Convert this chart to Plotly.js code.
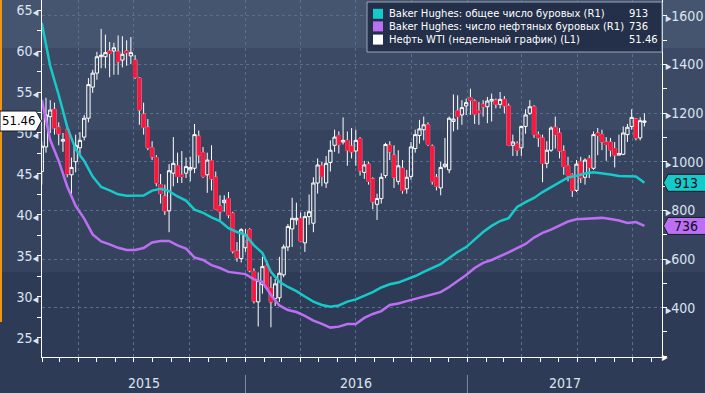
<!DOCTYPE html>
<html>
<head>
<meta charset="utf-8">
<script src="https://cdn.plot.ly/plotly-3.0.1.min.js"></script>
<style>
html,body{margin:0;padding:0;background:#2e3b57;}
#chart{width:705px;height:393px;}
</style>
</head>
<body>
<div id="chart"></div>
<script>
// ---------- DATA ----------
const weekStart = '2015-01-30'; // first weekly bar (Fridays)

const wtiOpen = [45.3,48.3,52.0,52.9,50.7,49.0,50.4,44.9,46.5,48.2,49.5,51.8,55.6,57.3,59.3,59.3,60.0,60.0,59.9,58.9,60.0,59.4,58.9,56.7,52.3,50.7,48.2,47.0,43.7,42.3,40.5,45.1,46.0,44.9,45.1,45.5,45.7,49.6,47.6,44.9,46.6,44.6,41.1,41.5,42.0,40.2,35.6,34.7,36.0,38.2,33.1,29.4,31.5,33.8,31.1,29.8,29.9,32.7,36.1,38.3,39.4,39.6,36.6,39.8,39.0,43.9,46.0,43.9,46.4,48.5,49.7,48.9,49.1,48.4,47.8,49.3,45.2,46.2,44.4,41.3,42.0,44.8,48.5,47.3,44.1,45.7,43.2,44.7,48.1,49.7,50.4,51.0,48.4,44.6,43.3,45.9,45.5,51.4,52.7,52.2,53.3,54.3,53.9,52.7,53.5,53.2,53.9,54.0,53.5,54.1,53.3,48.5,48.7,48.2,50.8,52.4,53.2,49.8,49.4,46.3,47.9,50.7,50.0,47.8,46.0,44.9,43.0,46.5,44.6,46.9,45.7,50.0,49.8,48.9,48.9,48.1,47.3,47.4,49.8,50.8,51.7,49.4,51.3];
const wtiHigh = [49.0,54.3,54.0,53.7,51.3,50.0,51.0,47.0,49.8,50.1,52.2,56.7,57.7,59.9,62.7,62.0,61.1,61.0,61.9,61.8,61.3,61.7,59.5,56.8,53.7,51.7,49.0,47.3,45.0,43.7,46.2,49.5,47.6,47.8,47.0,47.1,51.1,50.3,48.3,47.6,48.5,45.3,42.4,42.4,42.8,40.4,36.7,38.4,38.3,38.4,33.5,33.0,34.9,34.5,32.5,32.2,34.9,36.4,38.9,42.1,41.5,40.3,40.4,42.5,44.6,46.9,46.5,47.2,49.1,50.4,50.2,51.9,50.2,50.6,50.4,49.5,46.6,46.5,44.6,42.6,45.1,48.8,49.0,48.5,47.9,46.7,45.5,48.9,50.4,51.6,52.0,51.3,48.6,45.0,46.5,49.4,52.0,54.7,54.6,54.0,54.2,55.4,54.1,53.8,54.0,54.4,54.8,54.2,55.0,54.5,53.6,49.8,49.0,50.9,52.9,54.0,53.4,50.2,49.8,49.0,50.8,52.0,50.6,48.5,47.1,45.1,46.7,47.1,46.9,47.3,50.2,50.6,50.4,49.5,49.4,48.9,49.8,50.8,51.1,52.9,51.8,51.9,52.4];
const wtiLow = [43.7,47.6,50.0,49.8,48.5,47.7,44.6,42.4,45.2,47.3,49.1,51.3,54.9,56.5,57.9,57.9,56.8,57.1,57.1,58.0,58.2,58.4,56.6,51.0,49.8,47.9,46.7,43.5,41.4,40.0,37.9,43.5,43.9,43.9,44.5,44.1,45.1,46.3,44.5,42.7,43.0,40.6,39.4,40.4,39.6,35.3,34.3,34.2,35.5,33.0,29.2,26.4,30.4,30.9,26.3,28.9,29.4,32.4,35.6,36.1,38.8,36.7,35.5,38.8,37.9,42.6,43.5,43.3,45.3,47.7,47.5,48.6,46.0,46.9,46.0,44.8,44.4,43.7,40.7,39.4,41.4,44.5,46.7,43.3,43.7,42.6,42.6,44.3,47.6,48.7,49.1,48.4,43.7,43.0,42.4,45.7,45.1,50.2,50.4,51.0,52.2,52.2,51.1,51.0,52.0,51.2,51.4,53.0,53.0,52.4,48.4,47.2,47.2,47.2,49.9,52.2,49.4,48.3,44.0,45.7,47.7,48.1,46.9,44.9,44.1,42.2,42.8,43.9,43.7,44.5,45.5,47.3,47.9,46.6,47.1,45.8,47.3,47.3,48.9,50.4,49.1,49.1,50.8];
const wtiClose = [48.4,52.2,52.8,50.6,49.9,49.2,45.0,45.8,48.5,49.1,51.8,55.9,57.3,59.3,59.5,59.8,59.7,60.4,58.7,59.6,59.8,59.8,56.8,52.8,50.7,48.2,47.1,43.9,42.6,40.5,45.4,46.3,44.7,44.7,45.9,45.8,49.8,47.3,44.7,46.7,44.4,40.7,40.4,41.8,40.0,35.6,34.8,38.2,37.6,33.2,29.5,32.0,33.7,31.1,29.4,31.6,32.9,36.1,38.6,39.6,39.6,36.8,39.8,40.4,43.9,46.1,44.7,46.3,47.9,49.5,48.6,49.1,47.9,47.7,49.1,45.4,46.1,44.1,41.6,42.0,44.6,48.6,47.7,44.6,46.0,43.0,44.6,48.3,49.8,50.5,51.0,48.6,44.1,43.5,45.8,46.2,51.8,51.7,52.0,53.1,53.7,54.0,52.3,52.5,53.2,53.9,54.1,53.5,54.1,53.3,48.5,48.9,47.9,50.8,52.2,53.2,49.8,49.4,46.3,47.9,50.6,49.8,47.8,45.9,44.8,43.0,46.2,44.5,46.7,45.8,49.8,49.7,48.9,48.6,47.9,47.3,47.5,50.0,50.7,51.9,49.4,51.5,51.46];

// Baker Hughes rig counts, every second weekly bar (R1)
const totalRigs = [1570,1393,1274,1143,1050,1003,939,896,882,866,860,862,861,881,889,879,857,840,803,790,771,756,727,711,699,656,625,547,506,485,468,446,425,411,404,409,425,434,448,464,483,496,503,516,530,547,563,579,604,629,649,678,711,736,756,768,814,834,851,875,894,916,935,942,951,956,953,947,941,939,939,913];
const oilRigs = [1254,1089,1003,898,818,766,701,672,660,646,637,637,645,668,674,674,656,643,606,596,575,563,547,542,538,516,506,452,409,390,382,366,347,333,318,322,333,333,358,374,386,411,417,427,436,446,456,464,485,510,534,563,584,596,610,627,645,662,688,707,721,736,754,763,765,768,769,764,758,748,752,736];

const seriesNames = ['Baker Hughes: общее число буровых (R1)', 'Baker Hughes: число нефтяных буровых (R1)', 'Нефть WTI (недельный график) (L1)'];
const yearLabels = ['2015', '2016', '2017'];
const yearStarts = ['2016-01-01', '2017-01-01'];
const quarterTicks = ['2015-04-01','2015-07-01','2015-10-01','2016-01-01','2016-04-01','2016-07-01','2016-10-01','2017-01-01','2017-04-01','2017-07-01','2017-10-01'];
const leftTicks = [25,30,35,40,45,50,55,60,65];
const rightTicks = [200,400,600,800,1000,1200,1400,1600];

// ---------- BUILD ----------
const DAY = 86400000;
const t0 = Date.parse(weekStart + 'T00:00:00Z');
const weeks = wtiOpen.map((_, i) => new Date(t0 + i * 7 * DAY).toISOString().slice(0, 10));
const rigDates = weeks.filter((_, i) => i % 2 === 0);

const down = weeks.map((d, i) => i).filter(i => wtiClose[i] < wtiOpen[i]);

const TEAL = '#17caca', PURPLE = '#bd6ff3', RED = '#f5193f', GRID = '#587089';
const FONT = 'Liberation Sans Narrow, DejaVu Sans Condensed, Liberation Sans, sans-serif';
const LFONT = 'DejaVu Sans, sans-serif';

const xStart = '2015-01-30 10:00', xEnd = '2017-11-18';
const yRange = [22.68, 66.22], y2Range = [197.2, 1664.5];

const W = 705, H = 393, ML = 42, MR = 43, MT = 0, MB = 36;
const PW = W - ML - MR, PH = H - MT - MB;
const px = x => (x - ML) / PW;
const py = y => (PH + MT - y) / PH;
const pricePerPx = (yRange[1] - yRange[0]) / PH;
const rigPerPx = (y2Range[1] - y2Range[0]) / PH;

const lastClose = wtiClose[wtiClose.length - 1];
const lastTotal = totalRigs[totalRigs.length - 1];
const lastOil = oilRigs[oilRigs.length - 1];

const traces = [
  {
    type: 'candlestick', x: weeks, open: wtiOpen, high: wtiHigh, low: wtiLow, close: wtiClose,
    increasing: {line: {color: '#ffffff', width: 1}, fillcolor: 'rgba(0,0,0,0)'},
    decreasing: {line: {color: '#ffffff', width: 1}, fillcolor: RED},
    whiskerwidth: 0, hoverinfo: 'skip', xaxis: 'x', yaxis: 'y'
  },
  {
    type: 'candlestick', x: down.map(i => weeks[i]),
    open: down.map(i => wtiOpen[i]), high: down.map(i => wtiOpen[i]),
    low: down.map(i => wtiClose[i]), close: down.map(i => wtiClose[i]),
    increasing: {line: {color: RED, width: 1}, fillcolor: RED},
    decreasing: {line: {color: RED, width: 1}, fillcolor: RED},
    whiskerwidth: 0, hoverinfo: 'skip', xaxis: 'x', yaxis: 'y'
  },
  {type: 'scatter', mode: 'lines', x: rigDates, y: oilRigs, yaxis: 'y2', line: {color: PURPLE, width: 2.5}, hoverinfo: 'skip'},
  {type: 'scatter', mode: 'lines', x: rigDates, y: totalRigs, yaxis: 'y2', line: {color: TEAL, width: 2.5}, hoverinfo: 'skip'}
];

// background bands
const bands = [[0, 48, '#45546f'], [48, 130, '#3c4a66'], [130, 272, '#35435f']];
const shapes = bands.map(b => ({
  type: 'rect', xref: 'paper', yref: 'paper', x0: px(0), x1: px(W), y0: py(b[1]), y1: py(b[0]),
  fillcolor: b[2], line: {width: 0}, layer: 'below'
}));
// orange strip on the left edge
shapes.push({type: 'line', xref: 'paper', yref: 'paper', x0: px(1), x1: px(1), y0: py(322), y1: py(0), line: {color: '#f0960f', width: 2}});
// year separators
yearStarts.forEach(d => shapes.push({type: 'line', xref: 'x', yref: 'paper', x0: d, x1: d, y0: py(375), y1: py(394), line: {color: '#7d8aa0', width: 1}}));
// legend box
shapes.push({type: 'rect', xref: 'paper', yref: 'paper', x0: px(367), x1: px(662), y0: py(52), y1: py(2), fillcolor: '#243049', line: {color: '#9aa5b5', width: 1}, layer: 'above'});
const legendRows = [13.8, 26.4, 39.6];
const legendColors = [TEAL, PURPLE, '#ffffff'];
legendRows.forEach((r, i) => shapes.push({type: 'rect', xref: 'paper', yref: 'paper', x0: px(373), x1: px(383), y0: py(r + 5), y1: py(r - 5), fillcolor: legendColors[i], line: {width: 0}, layer: 'above'}));
// value tags
function tag(xref, yref, yc, h, xBody0, xBody1, xTip, fill) {
  const p = (xTip < xBody0)
    ? `M ${px(xTip)},${yc} L ${px(xBody0)},${yc + h} L ${px(xBody1)},${yc + h} L ${px(xBody1)},${yc - h} L ${px(xBody0)},${yc - h} Z`
    : `M ${px(xBody0)},${yc + h} L ${px(xBody1)},${yc + h} L ${px(xTip)},${yc} L ${px(xBody1)},${yc - h} L ${px(xBody0)},${yc - h} Z`;
  return {type: 'path', xref: xref, yref: yref, path: p, fillcolor: fill, line: {color: '#141a28', width: 1}, layer: 'above'};
}
shapes.push(tag('paper', 'y', lastClose, 10 * pricePerPx, 0, 36, 41.5, '#ffffff'));
shapes.push(tag('paper', 'y2', lastTotal, 8.5 * rigPerPx, 668, 706, 663.5, TEAL));
shapes.push(tag('paper', 'y2', lastOil, 8.5 * rigPerPx, 668, 706, 663.5, PURPLE));

// annotations
const annotations = [];
const legendValues = [String(lastTotal), String(lastOil), lastClose.toFixed(2)];
legendRows.forEach((r, i) => {
  annotations.push({xref: 'paper', yref: 'paper', x: px(387), y: py(r), xanchor: 'left', yanchor: 'middle', text: seriesNames[i], showarrow: false, font: {family: LFONT, size: 10, color: '#ffffff'}});
  annotations.push({xref: 'paper', yref: 'paper', x: px(627), y: py(r), xanchor: 'left', yanchor: 'middle', text: legendValues[i], showarrow: false, font: {family: LFONT, size: 10, color: '#ffffff'}});
});
annotations.push({xref: 'paper', yref: 'y', x: px(18.5), y: lastClose, yshift: 1, xanchor: 'center', yanchor: 'middle', text: lastClose.toFixed(2), showarrow: false, font: {family: FONT, size: 13, color: '#000000'}});
annotations.push({xref: 'paper', yref: 'y2', x: px(686), y: lastTotal, xanchor: 'center', yanchor: 'middle', text: String(lastTotal), showarrow: false, font: {family: FONT, size: 14, color: '#0b1020'}});
annotations.push({xref: 'paper', yref: 'y2', x: px(686), y: lastOil, xanchor: 'center', yanchor: 'middle', text: String(lastOil), showarrow: false, font: {family: FONT, size: 14, color: '#0b1020'}});
// year labels centred in visible span of each year
const bounds = [Date.parse(xStart.replace(' ', 'T') + 'Z'), ...yearStarts.map(d => Date.parse(d + 'T00:00:00Z')), Date.parse(xEnd + 'T00:00:00Z')];
yearLabels.forEach((lab, i) => {
  const mid = new Date((bounds[i] + bounds[i + 1]) / 2).toISOString().slice(0, 19).replace('T', ' ');
  annotations.push({xref: 'x', yref: 'paper', x: mid, y: py(383), xanchor: 'center', yanchor: 'middle', text: lab, showarrow: false, font: {family: FONT, size: 14, color: '#dbe4f0'}});
});
// x-axis end arrow
annotations.push({xref: 'paper', yref: 'paper', x: 1, y: 0, xanchor: 'left', yanchor: 'middle', text: '▶', showarrow: false, xshift: -2, font: {size: 8, color: '#ffffff'}});

const layout = {
  width: W, height: H,
  margin: {l: ML, r: MR, t: MT, b: MB, pad: 0},
  paper_bgcolor: '#2e3b57', plot_bgcolor: 'rgba(0,0,0,0)',
  showlegend: false,
  boxgap: 0.12, boxgroupgap: 0.12,
  font: {family: FONT, size: 14, color: '#dbe4f0'},
  xaxis: {
    type: 'date', range: [xStart, xEnd], rangeslider: {visible: false}, fixedrange: true,
    tickvals: quarterTicks, showticklabels: false, ticks: 'outside', ticklen: 4, tickcolor: '#ffffff',
    showgrid: true, gridcolor: GRID, griddash: '3px,3px', gridwidth: 1,
    minor: {ticks: 'outside', ticklen: 4, tickcolor: '#ffffff', dtick: 'M1', tick0: '2015-01-01', showgrid: false},
    showline: true, linecolor: '#ffffff', linewidth: 1, zeroline: false
  },
  yaxis: {
    range: yRange, fixedrange: true,
    tickvals: leftTicks, ticktext: leftTicks.map(v => v + '<span style="font-size:8px">◀</span>'),
    ticks: '', showgrid: false, zeroline: false,
    showline: true, linecolor: '#ffffff', linewidth: 1,
    minor: {ticks: 'outside', ticklen: 4, tickcolor: '#ffffff', dtick: 2.5, tick0: 22.5, showgrid: false},
    tickfont: {family: FONT, size: 14, color: '#dbe4f0'}
  },
  yaxis2: {
    overlaying: 'y', side: 'right', range: y2Range, fixedrange: true,
    tickvals: rightTicks, ticktext: rightTicks.map(v => v === 200 ? '' : '<span style="font-size:8px">▶</span>' + v),
    ticks: '', showgrid: true, gridcolor: GRID, griddash: '3px,3px', gridwidth: 1, zeroline: false,
    showline: true, linecolor: '#ffffff', linewidth: 1,
    minor: {ticks: 'outside', ticklen: 4, tickcolor: '#ffffff', dtick: 100, tick0: 0, showgrid: false},
    tickfont: {family: FONT, size: 14, color: '#dbe4f0'}
  },
  shapes: shapes,
  annotations: annotations
};

Plotly.newPlot('chart', traces, layout, {staticPlot: true, displayModeBar: false});
</script>
</body>
</html>
